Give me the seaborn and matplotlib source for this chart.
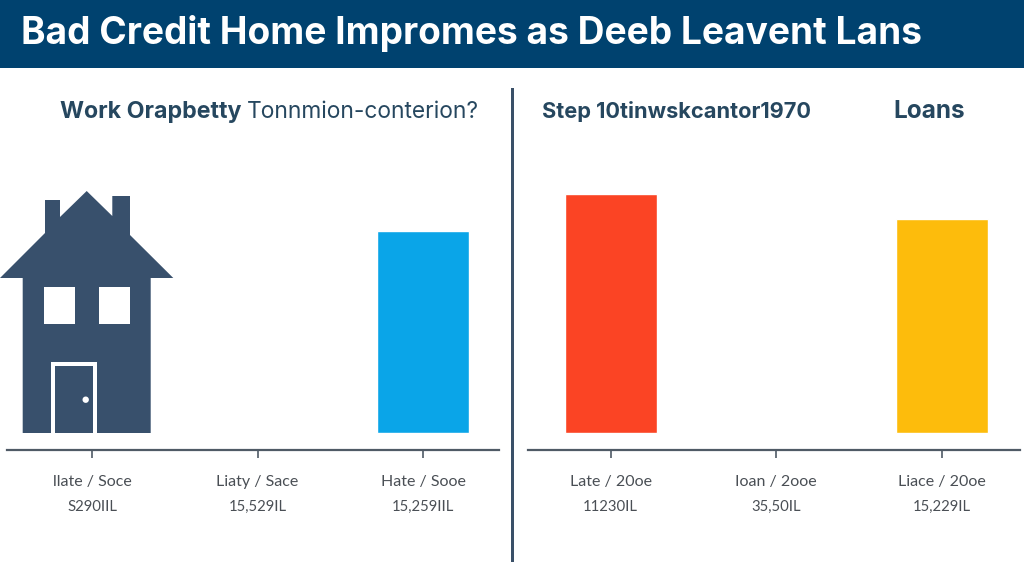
import numpy as np
import pandas as pd
import matplotlib
matplotlib.use("Agg")
import matplotlib.pyplot as plt
from matplotlib.patches import Polygon, Rectangle
from matplotlib.transforms import Affine2D
import seaborn as sns

# data
title = "Bad Credit Home Impromes as Deeb Leavent Lans"
left_labels = ["llate / Soce", "Liaty / Sace", "Hate / Sooe"]
left_amounts = ["S290IIL", "15,529IL", "15,259IIL"]
left_values = [np.nan, np.nan, 202]
left_colors = ["#0aa5e8", "#0aa5e8", "#0aa5e8"]
right_labels = ["Late / 20oe", "Ioan / 2ooe", "Liace / 20oe"]
right_amounts = ["11230IL", "35,50IL", "15,229IL"]
right_values = [239, np.nan, 214]
right_colors = ["#fb4424", "#fb4424", "#fdbc0c"]

sns.set_theme(style="white")
plt.rcParams["font.family"] = ["Lato", "DejaVu Sans"]

NAVY = "#00426f"
SLATE = "#38506c"
TEXT = "#26475f"
GREY = "#4f5a66"
HEAD_FONT = ["Inter", "Open Sans", "DejaVu Sans"]

fig = plt.figure(figsize=(10.24, 5.85), dpi=100, facecolor="white")


def px_axes(x0, x1, y0, y1):
    # axes placed by reference pixels (y from the top)
    return fig.add_axes([x0 / 1024, 1 - y1 / 585, (x1 - x0) / 1024, (y1 - y0) / 585])


def draw_panel(ax, labels, amounts, values, colors, xlim):
    df = pd.DataFrame({"label": labels, "value": values})
    sns.barplot(data=df, x="label", y="value", hue="label", palette=colors,
                legend=False, width=0.555, saturation=1, ax=ax)
    ax.set_xlim(*xlim)
    ax.set_ylim(-17, 343)
    ax.set_xlabel("")
    ax.set_ylabel("")
    ax.set_yticks([])
    sns.despine(ax=ax, left=True)
    ax.spines["bottom"].set_color(GREY)
    ax.spines["bottom"].set_linewidth(1.6)
    ax.patch.set_alpha(0)
    ax.tick_params(axis="x", bottom=True, length=6, width=1.2, color=GREY, pad=12,
                   labelsize=11.5, labelcolor="#4a4f55")
    # amounts sit under the tick labels
    for i, amount in enumerate(amounts):
        ax.text(i, -0.158, amount, transform=ax.get_xaxis_transform(), ha="center", va="center",
                fontsize=10.7, color="#4a4f55")


ax_left = px_axes(7, 499, 90, 450)
draw_panel(ax_left, left_labels, left_amounts, left_values, left_colors, (-0.514, 2.459))
ax_right = px_axes(528, 1020, 90, 450)
draw_panel(ax_right, right_labels, right_amounts, right_values, right_colors, (-0.50, 2.473))

# header band and title
to_fig = Affine2D().scale(1 / 1024, -1 / 585).translate(0, 1) + fig.transFigure
fig.add_artist(Rectangle((0, 0), 1024, 68, transform=to_fig, color=NAVY, lw=0))
fig.text(21 / 1024, 1 - 33 / 585, title, color="white", fontsize=26.7, fontweight="bold",
         family=HEAD_FONT, va="center", ha="left")

# panel headings
fig.text(60 / 1024, 1 - 112 / 585, "Work Orapbetty", color=TEXT, fontsize=16.7, fontweight="bold",
         family=HEAD_FONT, va="center")
fig.text(247 / 1024, 1 - 112 / 585, "Tonnmion-conterion?", color=TEXT, fontsize=16.4,
         family=HEAD_FONT, va="center")
fig.text(542 / 1024, 1 - 112 / 585, "Step 10tinwskcantor1970", color=TEXT, fontsize=15.7, fontweight="bold",
         family=HEAD_FONT, va="center")
fig.text(893 / 1024, 1 - 112 / 585, "Loans", color=TEXT, fontsize=17.5, fontweight="bold",
         family=HEAD_FONT, va="center")

# centre divider
fig.add_artist(Rectangle((511, 88), 2.5, 474, transform=to_fig, color="#3a5068", lw=0))

# house icon (decoration, not data)
house = [(86.7, 191), (60, 217), (60, 200), (45, 200), (45, 233), (0, 278), (22.7, 278), (22.7, 433),
         (150.7, 433), (150.7, 278), (173.3, 278), (130, 235), (130, 196), (112.3, 196), (112.3, 216)]
fig.add_artist(Polygon(house, closed=True, transform=to_fig, color=SLATE, lw=0))
for x, y, w, h, col in [(44, 287, 30.5, 36.5, "white"), (99.3, 287, 30.5, 36.5, "white"),
                        (50.7, 362, 46, 71, "white"), (54.7, 366, 38, 67, SLATE)]:
    fig.add_artist(Rectangle((x, y), w, h, transform=to_fig, color=col, lw=0))
fig.add_artist(Polygon([(85.7 + 3.2 * np.cos(a), 399.7 + 3.2 * np.sin(a)) for a in np.linspace(0, 2 * np.pi, 24)],
                       closed=True, transform=to_fig, color="white", lw=0))

fig.savefig("out.png", dpi=100)
